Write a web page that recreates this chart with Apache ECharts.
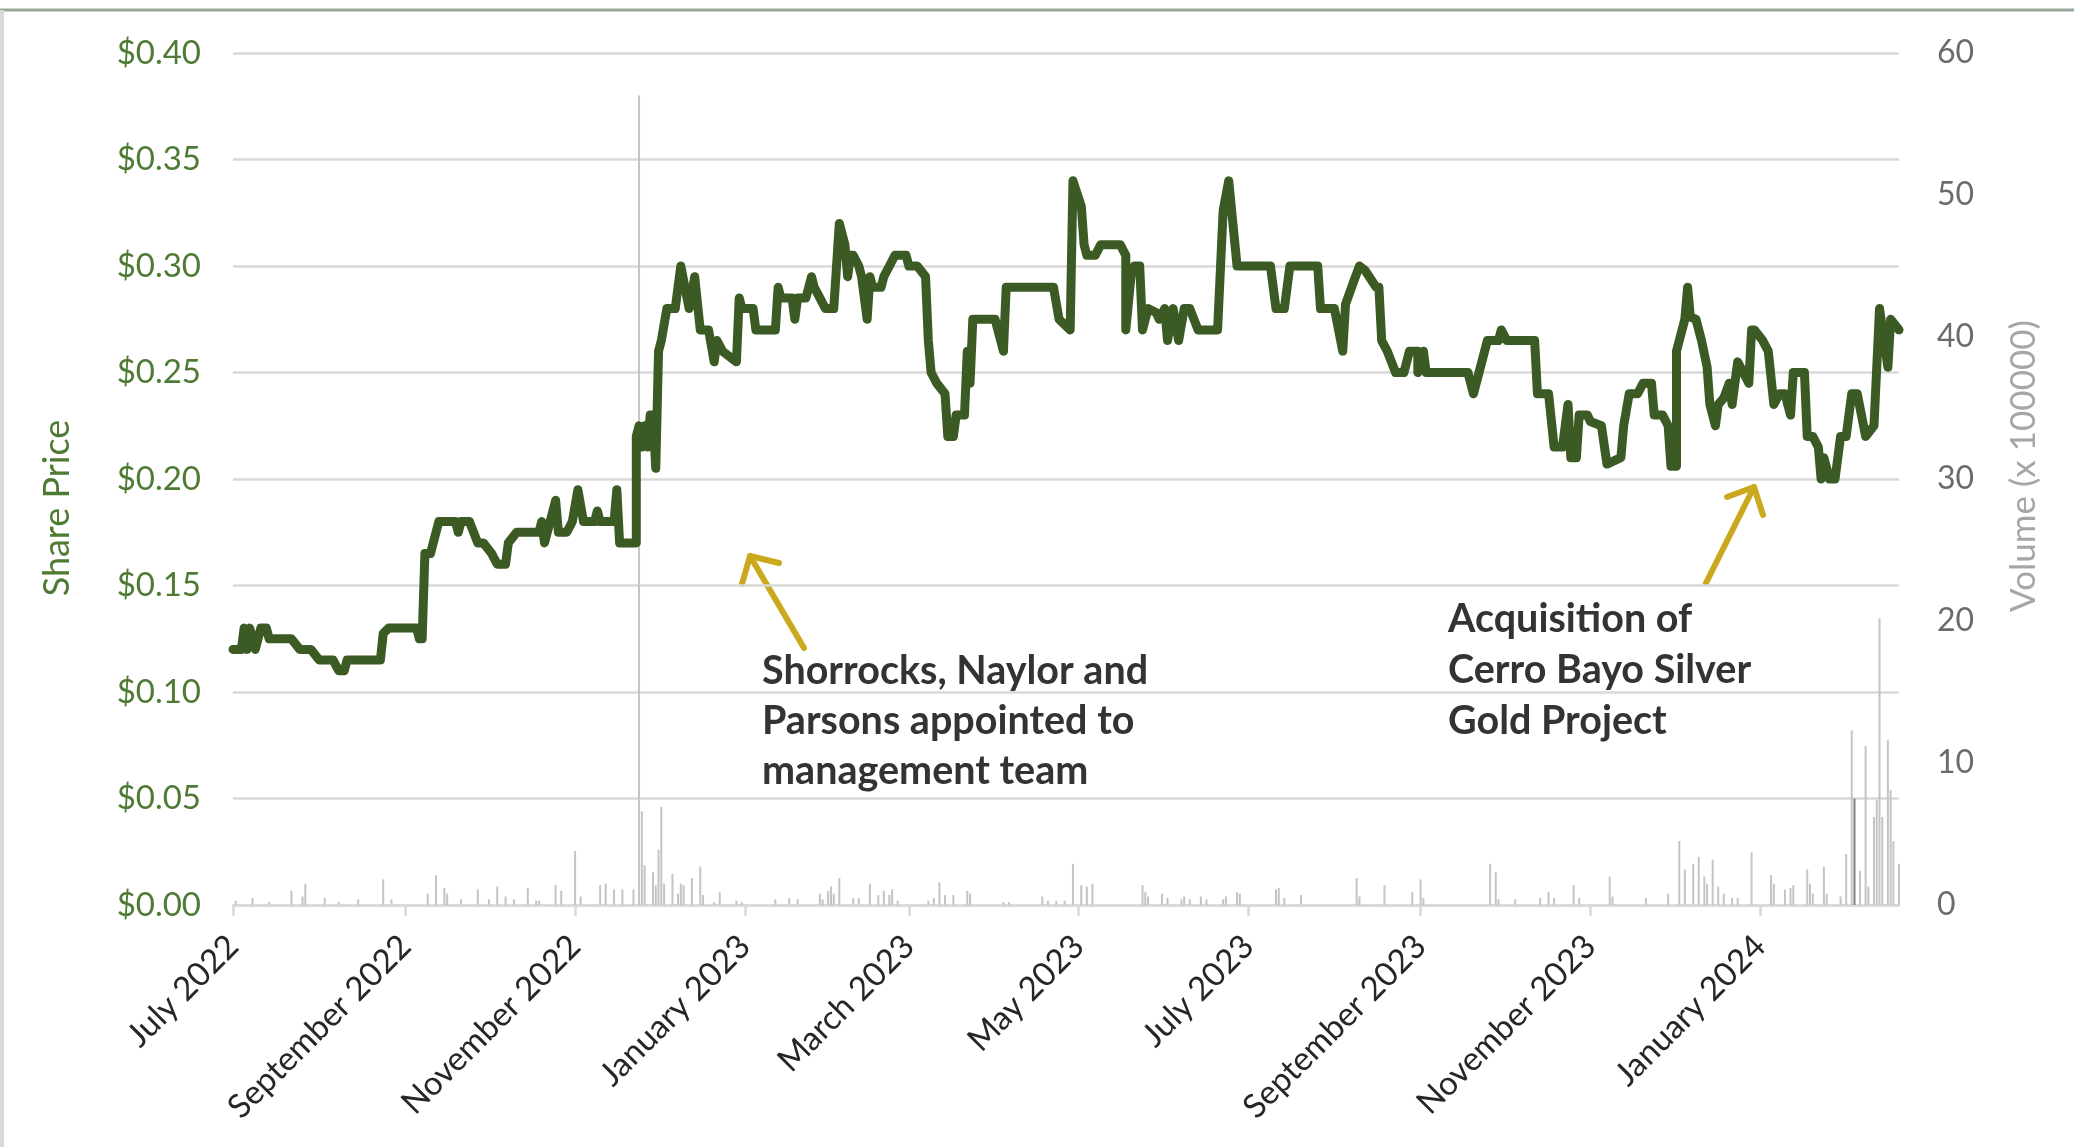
<!DOCTYPE html>
<html><head><meta charset="utf-8">
<script src="https://cdn.jsdelivr.net/npm/echarts@6/dist/echarts.min.js"></script>
<style>html,body{margin:0;padding:0;background:#fff}#chart{width:2074px;height:1147px}</style>
</head><body><div id="chart"></div>
<script>
// ---- data ----
const startDateUTC = [2022, 6, 1];   // 1 July 2022
const dayCount = 600;                // through ~20 Feb 2024

const xTickDates = ['2022-07-01','2022-09-01','2022-11-01','2023-01-01','2023-03-01','2023-05-01','2023-07-01','2023-09-01','2023-11-01','2024-01-01'];
const xTickLabels = ['July 2022','September 2022','November 2022','January 2023','March 2023','May 2023','July 2023','September 2023','November 2023','January 2024'];

// share price: day offset from 1 July 2022, price in $
const priceDays = [0,3,4,5,6,8,9,10,12,13,21,24,28,31,36,38,40,41,53,54,56,66,67,68,69,71,72,74,80,81,82,85,88,90,93,95,98,99,102,110,111,112,114,116,117,120,122,124,126,130,131,132,137,138,139,145,145,146,147,148,149,150,151,152,153,154,156,159,161,164,166,168,171,173,174,176,181,182,183,187,188,195,196,197,201,202,203,206,208,209,211,213,216,218,220,221,222,223,225,226,228,229,230,233,234,236,238,242,243,246,249,250,251,253,256,257,259,260,263,264,265,266,274,277,278,295,297,301,302,305,306,307,310,312,319,321,321,323,324,326,327,329,332,333,335,336,338,340,342,344,347,354,356,358,361,373,375,378,380,390,391,396,399,400,403,405,407,411,412,413,415,418,421,423,426,426,428,429,444,446,448,451,455,456,458,468,469,473,475,478,480,481,483,484,487,488,492,494,499,500,502,505,507,510,511,514,516,517,519,519,522,523,524,526,528,530,531,533,534,536,538,539,541,543,545,546,547,550,552,554,556,558,560,561,565,566,568,570,571,572,574,576,578,580,582,584,587,590,592,595,596,599];
const priceValues = [0.12,0.12,0.13,0.12,0.13,0.12,0.125,0.13,0.13,0.125,0.125,0.12,0.12,0.115,0.115,0.11,0.11,0.115,0.115,0.1275,0.13,0.13,0.125,0.125,0.165,0.165,0.17,0.18,0.18,0.175,0.18,0.18,0.17,0.17,0.165,0.16,0.16,0.17,0.175,0.175,0.18,0.17,0.18,0.19,0.175,0.175,0.18,0.195,0.18,0.18,0.185,0.18,0.18,0.195,0.17,0.17,0.22,0.225,0.215,0.225,0.215,0.23,0.23,0.205,0.26,0.265,0.28,0.28,0.30,0.28,0.295,0.27,0.27,0.255,0.265,0.26,0.255,0.285,0.28,0.28,0.27,0.27,0.29,0.285,0.285,0.275,0.285,0.285,0.295,0.29,0.285,0.28,0.28,0.32,0.31,0.295,0.305,0.305,0.30,0.295,0.275,0.295,0.29,0.29,0.295,0.30,0.305,0.305,0.30,0.30,0.295,0.265,0.25,0.245,0.24,0.22,0.22,0.23,0.23,0.26,0.245,0.275,0.275,0.26,0.29,0.29,0.275,0.27,0.34,0.328,0.31,0.305,0.305,0.31,0.31,0.305,0.27,0.297,0.30,0.30,0.27,0.28,0.278,0.275,0.28,0.265,0.28,0.265,0.28,0.28,0.27,0.27,0.326,0.34,0.30,0.30,0.28,0.28,0.30,0.30,0.28,0.28,0.26,0.282,0.293,0.30,0.298,0.29,0.29,0.265,0.26,0.25,0.25,0.26,0.26,0.25,0.26,0.25,0.25,0.24,0.25,0.265,0.265,0.27,0.265,0.265,0.24,0.24,0.215,0.215,0.235,0.21,0.21,0.23,0.23,0.227,0.225,0.207,0.21,0.225,0.24,0.24,0.245,0.245,0.23,0.23,0.225,0.206,0.206,0.26,0.275,0.29,0.276,0.275,0.265,0.2525,0.235,0.225,0.235,0.238,0.245,0.235,0.255,0.25,0.245,0.27,0.27,0.265,0.26,0.235,0.24,0.24,0.23,0.25,0.25,0.22,0.22,0.215,0.20,0.21,0.20,0.20,0.22,0.22,0.24,0.24,0.22,0.225,0.28,0.2525,0.275,0.27];

// volume: day offset, volume (x 100000)
const volumeDays = [1,7,13,21,25,26,33,38,45,54,57,70,73,76,77,82,88,92,95,98,101,106,109,110,116,118,123,125,132,134,137,140,144,146,147,148,151,152,153,154,155,158,160,161,162,165,168,169,173,175,181,183,195,200,203,211,212,214,215,216,218,223,225,229,232,234,236,237,239,250,252,254,256,259,264,265,277,279,291,293,296,299,302,305,307,309,327,328,329,334,336,341,342,344,348,350,356,357,361,362,375,376,378,384,404,405,414,424,427,428,452,454,455,461,470,473,475,482,484,495,496,508,516,520,522,525,527,529,530,532,534,536,539,541,546,553,554,558,560,561,566,567,568,572,573,578,580,582,583,585,587,588,590,591,592,593,595,596,597,599];
const volumeValues = [0.3,0.5,0.2,1.0,0.6,1.5,0.5,0.2,0.4,1.8,0.4,0.8,2.1,1.2,0.8,0.4,1.1,0.4,1.3,0.6,0.4,1.2,0.3,0.3,1.4,1.0,3.8,0.6,1.4,1.5,1.1,1.1,1.1,57,6.6,2.8,2.3,1.4,3.9,6.9,1.5,2.2,0.8,1.5,1.4,1.9,2.7,0.7,0.2,0.9,0.3,0.2,0.4,0.5,0.4,0.8,0.4,1.0,1.3,0.8,1.9,0.5,0.5,1.5,0.7,1.0,0.7,1.1,0.3,0.3,0.5,1.6,0.7,0.7,1.0,0.8,0.2,0.2,0.6,0.3,0.3,0.3,2.9,1.4,1.3,1.5,1.4,0.9,0.6,0.8,0.5,0.4,0.6,0.4,0.6,0.4,0.4,0.6,0.9,0.8,1.1,1.2,0.5,0.7,1.9,0.6,1.4,0.9,1.8,0.5,2.9,2.3,0.4,0.4,0.5,0.9,0.5,1.4,0.5,2.0,0.6,0.5,0.8,4.5,2.5,2.9,3.4,2.0,1.5,3.2,1.3,0.8,0.5,0.5,3.7,2.1,1.5,1.1,1.2,1.4,2.5,1.5,0.8,2.7,0.8,0.6,3.6,12.3,7.5,2.4,11.2,1.3,6.2,7.4,20.2,6.2,11.6,8.1,4.5,2.9];
// day whose volume bar is drawn darker in the original
const darkVolumeDays = [583];

const annotationOne = 'Shorrocks, Naylor and\nParsons appointed to\nmanagement team';
const annotationTwo = 'Acquisition of\nCerro Bayo Silver\nGold Project';

// ---- build tables ----
const categories = [];
const t0 = Date.UTC(startDateUTC[0], startDateUTC[1], startDateUTC[2]);
for (let i = 0; i < dayCount; i++) {
  categories.push(new Date(t0 + i * 86400000).toISOString().slice(0, 10));
}
const priceData = priceDays.map((d, i) => [categories[d], priceValues[i]]);
const volumeData = volumeDays.map((d, i) => {
  const item = {value: [categories[d], volumeValues[i]]};
  if (darkVolumeDays.indexOf(d) >= 0) item.itemStyle = {color: '#7F7F7F'};
  return item;
});
const isTick = (idx, val) => xTickDates.indexOf(val) >= 0;

const GREEN_TXT = '#4F7A34';
const GOLD = '#CBA91F';

const chart = echarts.init(document.getElementById('chart'), null, {renderer: 'canvas'});
chart.setOption({
  animation: false,
  backgroundColor: '#ffffff',
  grid: {left: 233, right: 175, top: 53, bottom: 242, containLabel: false},
  xAxis: {
    type: 'category', data: categories, boundaryGap: false,
    axisLine: {lineStyle: {color: '#D9D9D9', width: 2.5}},
    axisTick: {show: true, interval: isTick, length: 11, lineStyle: {color: '#D9D9D9', width: 2.5}},
    axisLabel: {
      interval: isTick, rotate: 45, margin: 36,
      formatter: v => xTickLabels[xTickDates.indexOf(v)] || '',
      color: '#262626', fontFamily: 'Lato', fontSize: 33
    },
    splitLine: {show: false}
  },
  yAxis: [
    {type: 'value', min: 0, max: 0.4, interval: 0.05,
     axisLine: {show: false}, axisTick: {show: false},
     axisLabel: {formatter: v => '$' + v.toFixed(2), color: GREEN_TXT, fontFamily: 'Lato', fontSize: 33, margin: 32},
     splitLine: {lineStyle: {color: '#D9D9D9', width: 2.5}}},
    {type: 'value', min: 0, max: 60, interval: 10, position: 'right',
     axisLine: {show: false}, axisTick: {show: false},
     axisLabel: {color: '#6B6B6B', fontFamily: 'Lato', fontSize: 32, margin: 38},
     splitLine: {show: false}}
  ],
  series: [
    {type: 'bar', name: 'Volume', yAxisIndex: 1, data: volumeData, barWidth: 2,
     itemStyle: {color: '#C4C4C4'}, z: 1},
    {type: 'line', name: 'Share Price', yAxisIndex: 0, data: priceData, symbol: 'none',
     lineStyle: {color: '#3B5A24', width: 9, join: 'round', cap: 'round'}, z: 3}
  ],
  graphic: [
    {type: 'line', shape: {x1: 0, y1: 10, x2: 2074, y2: 10}, style: {stroke: '#98A69A', lineWidth: 3}},
    {type: 'line', shape: {x1: 2, y1: 10, x2: 2, y2: 1147}, style: {stroke: '#D9D9D9', lineWidth: 4}},
    {type: 'text', x: 57, y: 508, rotation: Math.PI / 2,
     style: {text: 'Share Price', fill: GREEN_TXT, font: '36px Lato', align: 'center', verticalAlign: 'middle'}},
    {type: 'text', x: 2024, y: 466, rotation: Math.PI / 2,
     style: {text: 'Volume (x 100000)', fill: '#A6A6A6', font: '35px Lato', align: 'center', verticalAlign: 'middle'}},
    {type: 'text', x: 762, y: 646,
     style: {text: annotationOne, fill: '#333333', font: 'bold 39.5px Lato', lineHeight: 50, align: 'left', verticalAlign: 'top'}},
    {type: 'text', x: 1448, y: 594,
     style: {text: annotationTwo, fill: '#333333', font: 'bold 39.5px Lato', lineHeight: 51, align: 'left', verticalAlign: 'top'}},
    {type: 'polyline', shape: {points: [[804, 648], [750, 556]]}, style: {stroke: GOLD, lineWidth: 6, lineCap: 'round', fill: null}},
    {type: 'polyline', shape: {points: [[779, 563], [750, 556], [742, 584]]}, style: {stroke: GOLD, lineWidth: 6, lineCap: 'round', lineJoin: 'round', fill: null}},
    {type: 'polyline', shape: {points: [[1706, 583], [1754, 487]]}, style: {stroke: GOLD, lineWidth: 6, lineCap: 'round', fill: null}},
    {type: 'polyline', shape: {points: [[1727, 497], [1754, 487], [1763, 515]]}, style: {stroke: GOLD, lineWidth: 6, lineCap: 'round', lineJoin: 'round', fill: null}}
  ]
});
</script></body></html>
